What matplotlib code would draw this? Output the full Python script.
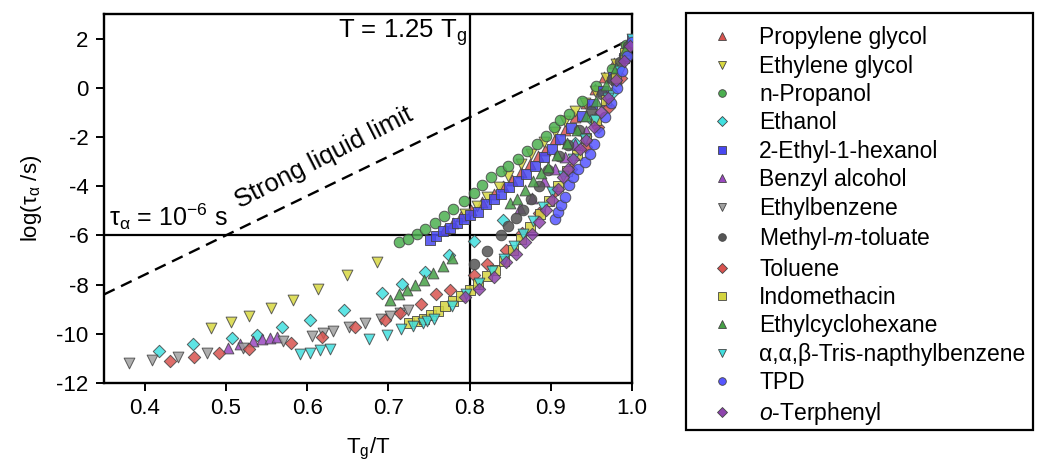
import matplotlib
matplotlib.use("Agg")
import matplotlib.pyplot as plt
from matplotlib.lines import Line2D
from matplotlib.patches import Rectangle

plt.rcParams['font.family'] = ['Liberation Sans', 'DejaVu Sans']
plt.rcParams['mathtext.fontset'] = 'custom'
plt.rcParams['mathtext.rm'] = 'Liberation Sans'
plt.rcParams['mathtext.it'] = 'Liberation Sans:italic'
plt.rcParams['mathtext.bf'] = 'Liberation Sans:bold'
plt.rcParams['mathtext.default'] = 'regular'
plt.rcParams['axes.unicode_minus'] = False

# ---- data : Tg/T and log(tau_alpha / s) ----
pg_x = [0.770, 0.780, 0.789, 0.802, 0.815, 0.830, 0.841, 0.852, 0.864, 0.875, 0.884, 0.893,
        0.905, 0.917, 0.930, 0.943, 0.955, 0.966, 0.978, 0.990, 1.0]
pg_y = [-5.75, -5.5, -5.22, -4.98, -4.65, -4.3, -3.99, -3.73, -3.43, -3.11, -2.78, -2.52,
        -2.1, -1.7, -1.2, -0.6, -0.05, 0.45, 1.0, 1.55, 2.0]

eg_x = [0.482, 0.506, 0.529, 0.556, 0.583, 0.613, 0.649, 0.686, 0.795, 0.809, 0.822, 0.836,
        0.848, 0.864, 0.876, 0.892, 0.905, 0.918, 0.930, 0.942, 0.955, 0.968, 0.980, 0.992]
eg_y = [-9.76, -9.51, -9.27, -8.97, -8.61, -8.16, -7.62, -7.08, -5.15, -4.82, -4.42, -4.03,
        -3.6, -3.09, -2.68, -2.21, -1.8, -1.35, -0.95, -0.6, -0.15, 0.4, 0.95, 1.6]

np_x = [0.713, 0.724, 0.735, 0.745, 0.757, 0.768, 0.780, 0.793, 0.806, 0.815, 0.827, 0.839,
        0.848, 0.860, 0.871, 0.883, 0.894, 0.904, 0.912, 0.923, 0.938, 0.956, 0.975, 0.993]
np_y = [-6.27, -6.13, -5.94, -5.74, -5.48, -5.21, -4.93, -4.59, -4.26, -3.94, -3.64, -3.40,
        -3.18, -2.91, -2.55, -2.30, -1.95, -1.60, -1.30, -1.08, -0.55, 0.09, 0.77, 1.72]

eth_x = [0.418, 0.459, 0.508, 0.538, 0.569, 0.604, 0.645, 0.692, 0.717, 0.745, 0.775, 0.806,
         0.841, 0.930, 0.951, 0.975, 1.0]
eth_y = [-10.7, -10.43, -10.19, -10.03, -9.72, -9.44, -9.04, -8.34, -7.98, -7.48, -6.81, -6.23,
         -5.39, -2.23, -1.3, -0.2, 1.9]

ehx_x = [0.751, 0.759, 0.767, 0.776, 0.785, 0.793, 0.801, 0.811, 0.820, 0.830, 0.839, 0.849,
         0.860, 0.870, 0.881, 0.892, 0.901, 0.912, 0.925, 0.938, 0.951, 0.964, 0.977, 0.990, 1.0]
ehx_y = [-6.2, -6.04, -5.82, -5.68, -5.5, -5.35, -5.18, -5.05, -4.74, -4.53, -4.33, -4.03,
         -3.79, -3.49, -3.18, -2.82, -2.48, -2.1, -1.65, -1.15, -0.65, -0.14, 0.45, 1.2, 2.0]

ba_x = [0.503, 0.518, 0.534, 0.544, 0.554, 0.563, 0.862, 0.877, 0.892, 0.905, 0.918, 0.930,
        0.943, 0.955, 0.968, 0.980, 0.992]
ba_y = [-10.57, -10.43, -10.3, -10.23, -10.16, -10.15, -4.9, -4.47, -3.8, -3.3, -2.8, -2.3,
        -1.75, -1.2, -0.55, 0.3, 1.4]

eb_x = [0.381, 0.409, 0.441, 0.477, 0.521, 0.570, 0.606, 0.620, 0.632, 0.652, 0.671, 0.691,
        0.702, 0.714, 0.724]
eb_y = [-11.2, -11.07, -10.96, -10.8, -10.57, -10.29, -10.08, -9.98, -9.89, -9.74, -9.58, -9.38,
        -9.27, -9.15, -9.04]

mmt_x = [0.806, 0.822, 0.839, 0.848, 0.857, 0.866, 0.876, 0.885, 0.897, 0.910, 0.921, 0.935,
         0.950, 0.963, 0.975, 0.985, 0.995]
mmt_y = [-7.15, -6.65, -6.0, -5.63, -5.3, -4.95, -4.5, -4.0, -3.35, -2.79, -2.34, -1.7,
         -0.95, -0.25, 0.34, 1.04, 1.7]

tol_x = [0.431, 0.461, 0.492, 0.529, 0.580, 0.618, 0.659, 0.696, 0.714, 0.740, 0.759, 0.776,
         0.806, 0.822, 0.845, 0.865, 0.885, 0.905, 0.925, 0.943, 0.958, 0.972, 0.986]
tol_y = [-11.1, -10.93, -10.8, -10.63, -10.39, -10.15, -9.74, -9.42, -9.15, -8.77, -8.4, -8.2,
         -7.6, -7.18, -6.6, -5.9, -5.1, -4.2, -3.3, -2.4, -1.6, -0.8, 0.4]

ind_x = [0.726, 0.735, 0.744, 0.753, 0.761, 0.770, 0.780, 0.790, 0.800, 0.811, 0.822, 0.832,
         0.842, 0.853, 0.863, 0.874, 0.887, 0.898, 0.909, 0.920, 0.932, 0.944, 0.956, 0.968,
         0.980, 0.992]
ind_y = [-9.58, -9.47, -9.38, -9.24, -9.07, -8.88, -8.67, -8.47, -8.23, -7.96, -7.66, -7.39,
         -7.04, -6.6, -6.15, -5.65, -5.12, -4.6, -4.0, -3.4, -2.75, -2.05, -1.3, -0.5,
         0.4, 1.4]

ech_x = [0.702, 0.713, 0.723, 0.733, 0.744, 0.755, 0.767, 0.779, 0.850, 0.858, 0.868, 0.878,
         0.888, 0.897, 0.908, 0.920, 0.932, 0.944, 0.956, 0.968, 0.980, 0.992]
ech_y = [-8.63, -8.40, -8.23, -8.0, -7.8, -7.53, -7.25, -6.9, -4.7, -4.5, -4.15, -3.79,
         -3.47, -3.2, -2.75, -2.25, -1.7, -1.15, -0.55, 0.1, 0.8, 1.55]

tnb_x = [0.591, 0.603, 0.616, 0.628, 0.676, 0.698, 0.716, 0.731, 0.743, 0.748, 0.756, 0.779,
         0.796, 0.812, 0.828, 0.843, 0.855, 0.866, 0.878, 0.890, 0.902, 0.915, 0.928, 0.942,
         0.955, 0.970, 0.985, 1.0]
tnb_y = [-10.84, -10.77, -10.66, -10.6, -10.23, -10.05, -9.82, -9.69, -9.58, -9.47, -9.38, -8.88,
         -8.4, -7.95, -7.45, -6.95, -6.44, -5.95, -5.4, -4.85, -4.25, -3.6, -2.9, -2.1,
         -1.3, -0.4, 0.7, 2.0]

tpd_x = [0.905, 0.909, 0.913, 0.917, 0.922, 0.927, 0.933, 0.942, 0.948, 0.953, 0.960, 0.967,
         0.974, 0.981, 0.988, 0.994, 1.0]
tpd_y = [-5.35, -5.05, -4.78, -4.44, -3.97, -3.63, -3.32, -3.02, -2.68, -2.27, -1.8, -1.2,
         -0.6, 0.0, 0.7, 1.3, 1.85]

otp_x = [0.794, 0.812, 0.830, 0.845, 0.857, 0.868, 0.877, 0.886, 0.894, 0.901, 0.909, 0.915,
         0.921, 0.927, 0.936, 0.944, 0.953, 0.962, 0.971, 0.980, 0.990, 0.998]
otp_y = [-8.5, -8.16, -7.69, -7.1, -6.74, -6.27, -5.93, -5.46, -4.98, -4.57, -4.1, -3.63,
         -3.29, -2.88, -2.48, -2.14, -1.6, -1.0, -0.4, 0.3, 1.1, 1.7]

# strong liquid (Arrhenius) limit end points
strong_x = [0.35, 1.0]
strong_y = [-8.4, 2.0]

series = [
    ("Propylene glycol", pg_x, pg_y, "^", "#d9534f"),
    ("Ethylene glycol", eg_x, eg_y, "v", "#d8d840"),
    ("n-Propanol", np_x, np_y, "o", "#4caf50"),
    ("Ethanol", eth_x, eth_y, "D", "#40e0e0"),
    ("2-Ethyl-1-hexanol", ehx_x, ehx_y, "s", "#4848f0"),
    ("Benzyl alcohol", ba_x, ba_y, "^", "#9a48c0"),
    ("Ethylbenzene", eb_x, eb_y, "v", "#a0a0a0"),
    (r"Methyl-$\mathit{m}$-toluate", mmt_x, mmt_y, "o", "#555555"),
    ("Toluene", tol_x, tol_y, "D", "#d9534f"),
    ("Indomethacin", ind_x, ind_y, "s", "#d4d440"),
    ("Ethylcyclohexane", ech_x, ech_y, "^", "#46a046"),
    ("α,α,β-Tris-napthylbenzene", tnb_x, tnb_y, "v", "#40dede"),
    ("TPD", tpd_x, tpd_y, "o", "#5656ff"),
    (r"$\mathit{o}$-Terphenyl", otp_x, otp_y, "D", "#8e44ad"),
]

fig = plt.figure(figsize=(10.37, 4.68), dpi=100)
ax = fig.add_axes([0.1003, 0.1816, 0.5091, 0.7885])

sizes = {"o": 58, "s": 50, "D": 40, "^": 60, "v": 60}
for name, x, y, m, c in series:
    ax.scatter(x, y, marker=m, s=sizes[m], facecolor=c, edgecolor="#444444",
               linewidth=0.7, alpha=0.85, zorder=3)

ax.plot(strong_x, strong_y, color="black", lw=1.7, ls=(0, (5, 3)), zorder=2)
ax.axvline(0.8, color="black", lw=1.6, zorder=2)
ax.axhline(-6, color="black", lw=1.6, zorder=2)

ax.set_xlim(0.35, 1.0)
ax.set_ylim(-12, 3)
ax.set_xticks([0.4, 0.5, 0.6, 0.7, 0.8, 0.9, 1.0])
ax.set_yticks(range(-12, 3, 2))
ax.tick_params(labelsize=16, direction="out", length=6, width=1.4, pad=5)
for sp in ax.spines.values():
    sp.set_linewidth(1.7)

ax.set_xlabel("T$_g$/T", fontsize=16, labelpad=12)
ax.set_ylabel(r"log($\tau_\alpha$ /s)", fontsize=16, labelpad=9)

ax.text(0.797, 2.85, "T = 1.25 T$_g$", ha="right", va="top", fontsize=18.5)
ax.text(0.356, -5.62, r"$\tau_\alpha$ = 10$^{-6}$ s", ha="left", va="baseline", fontsize=18)
ax.text(0.621, -2.85, "Strong liquid limit", ha="center", va="center", fontsize=18.5,
        rotation=27, rotation_mode="anchor")

handles = [Line2D([], [], ls="none", marker=m, markersize=5.5 if m != "D" else 5,
                  markerfacecolor=c, markeredgecolor="#444444", markeredgewidth=0.6)
           for name, x, y, m, c in series]
labels = [s[0] for s in series]
leg = fig.legend(handles, labels, loc="upper left", bbox_to_anchor=(0.661, 0.973),
                 fontsize=16.5, frameon=False, labelspacing=0.237, handletextpad=0.62,
                 borderpad=0.59, borderaxespad=0, handlelength=2.0)

# legend box drawn separately (tight on the right like the original)
fig.patches.append(Rectangle((686 / 1037, 1 - 430 / 468), (1033 - 686) / 1037, (430 - 13) / 468,
                             transform=fig.transFigure, fill=False, edgecolor="black",
                             linewidth=1.6))

fig.savefig("out.png", dpi=100)
